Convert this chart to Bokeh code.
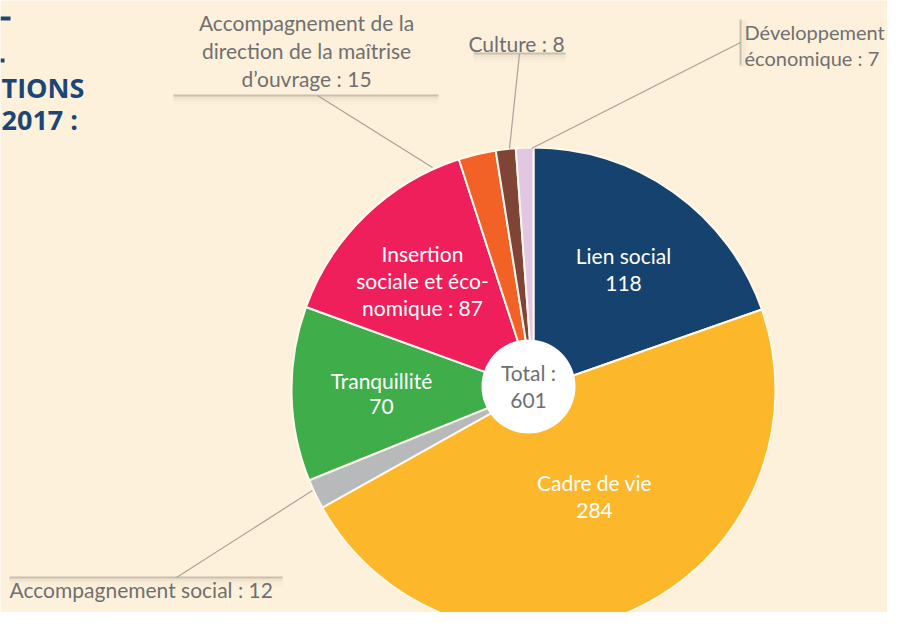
import numpy as np
from bokeh.plotting import figure
from bokeh.models import Range1d, ColumnDataSource
from bokeh.core.properties import value
from bokeh.embed import file_html
from bokeh.resources import INLINE

# ---- data ----
categories = ["Lien social", "Cadre de vie", "Accompagnement social", "Tranquillité",
              "Insertion sociale et économique", "Accompagnement de la direction de la maîtrise d'ouvrage",
              "Culture", "Développement économique"]
counts = [118, 284, 12, 70, 87, 15, 8, 7]
inner_labels = ["Lien social\n118", "Cadre de vie\n284", None, "Tranquillité\n70",
                "Insertion\nsociale et éco-\nnomique : 87", None, None, None]
outer_labels = [None, None, "Accompagnement social : 12", None, None,
                "Accompagnement de la\ndirection de la maîtrise\nd\u2019ouvrage : 15",
                "Culture : 8", "Développement\néconomique : 7"]
total_label = "Total :\n601"
title_lines = ["TIONS", "2017 :"]

# ---- style ----
colors = ["#16426f", "#fcb72b", "#b8b9bb", "#40ad4b", "#ef1f5b", "#f26126", "#7f4435", "#e1c7e1"]
BG = "#fdf1dc"
GREY = "#707070"
FONT = "Lato"
FS = "21px"

W, H = 887, 612
TOP = 628
def Y(y):  # reference pixel row -> data y
    return TOP - y

p = figure(width=W, height=H, output_backend="svg", toolbar_location=None,
           x_range=Range1d(0, W), y_range=Range1d(TOP - H, TOP),
           min_border=0)
p.background_fill_color = BG
p.border_fill_color = BG
p.outline_line_color = None
p.axis.visible = False
p.grid.visible = False

def put_text(label, x, yc, spacing, color, align="center", size=FS):
    lines = label.split("\n")
    n = len(lines)
    ys = [Y(yc + (k - (n - 1) / 2) * spacing) for k in range(n)]
    p.text(x=[x] * n, y=ys, text=lines, text_color=color, text_font=value(FONT),
           text_font_size=size, text_align=align, text_baseline="middle")

cx, cy, R = 533, Y(389), 242
vals = np.array(counts, dtype=float)
cum = np.cumsum(vals)
prev = cum - vals
tot = vals.sum()
start = np.pi / 2 - prev / tot * 2 * np.pi
end = np.pi / 2 - cum / tot * 2 * np.pi
src = ColumnDataSource(dict(start=start, end=end, color=colors, cat=categories, n=counts))
p.wedge(x=cx, y=cy, radius=R, start_angle="start", end_angle="end", direction="clock",
        fill_color="color", line_color="#fff8ec", line_width=2, source=src)

# centre circle
p.circle(x=[528], y=[Y(386)], radius=47, fill_color="white", line_color=None)
put_text(total_label, 528, 386, 28, GREY)

# inner labels
inner_pos = {0: (623, 269, 28), 1: (594, 496, 28), 3: (381, 393, 26), 4: (422, 280, 27)}
for i, (x, y, s) in inner_pos.items():
    put_text(inner_labels[i], x, y, s, "white")

# outer labels
def shadow_line(xs, ys):
    for w, a, off in [(10, 0.025, 4), (6, 0.035, 3), (3, 0.05, 2)]:
        p.line([xs[0], xs[1]], [ys[0] - off, ys[1] - off], line_color="#8a7a60", line_alpha=a, line_width=w)

LEAD = "#a8a298"
RULE = "#c9c0b0"

# Accompagnement direction
shadow_line((173, 438), (Y(95), Y(95)))
p.line([173, 438], [Y(95), Y(95)], line_color=RULE, line_width=2)
p.line([317, 432], [Y(95), Y(167)], line_color=LEAD, line_width=1.2)
put_text(outer_labels[5], 306, 50, 28, GREY)

# Culture
shadow_line((473, 565), (Y(53), Y(53)))
p.line([473, 565], [Y(53), Y(53)], line_color=RULE, line_width=2)
p.line([519, 509], [Y(53), Y(148)], line_color=LEAD, line_width=1.2)
put_text(outer_labels[6], 516, 43, 28, GREY)

# Développement économique (nudged left so it stays inside the frame)
DX = 740
for w, a, off in [(8, 0.025, 4), (5, 0.04, 3)]:
    p.line([DX + off, DX + off], [Y(20), Y(66)], line_color="#8a7a60", line_alpha=a, line_width=w)
p.line([DX, DX], [Y(19), Y(65)], line_color=RULE, line_width=2)
p.line([DX, 531], [Y(42), Y(148)], line_color=LEAD, line_width=1.2)
put_text(outer_labels[7], DX + 4, 44.5, 26, GREY, align="left", size="20px")

# Accompagnement social
shadow_line((9, 282), (Y(577), Y(577)))
p.line([9, 282], [Y(577), Y(577)], line_color=RULE, line_width=2)
p.line([176, 312], [Y(577), Y(490)], line_color=LEAD, line_width=1.2)
put_text(outer_labels[2], 9, 589, 28, GREY, align="left")

# cropped title at top-left
NAVY = "#1b4675"
p.quad(left=[0, 0], right=[10, 4], bottom=[Y(20), Y(62)], top=[Y(16), Y(58)],
       fill_color=NAVY, line_color=None)
p.text(x=[1, 1], y=[Y(87), Y(119)], text=title_lines, text_color=NAVY,
       text_font=value("Open Sans"), text_font_style="bold", text_font_size="27px",
       text_align="left", text_baseline="middle")

open("out.html", "w").write(file_html(p, INLINE))
